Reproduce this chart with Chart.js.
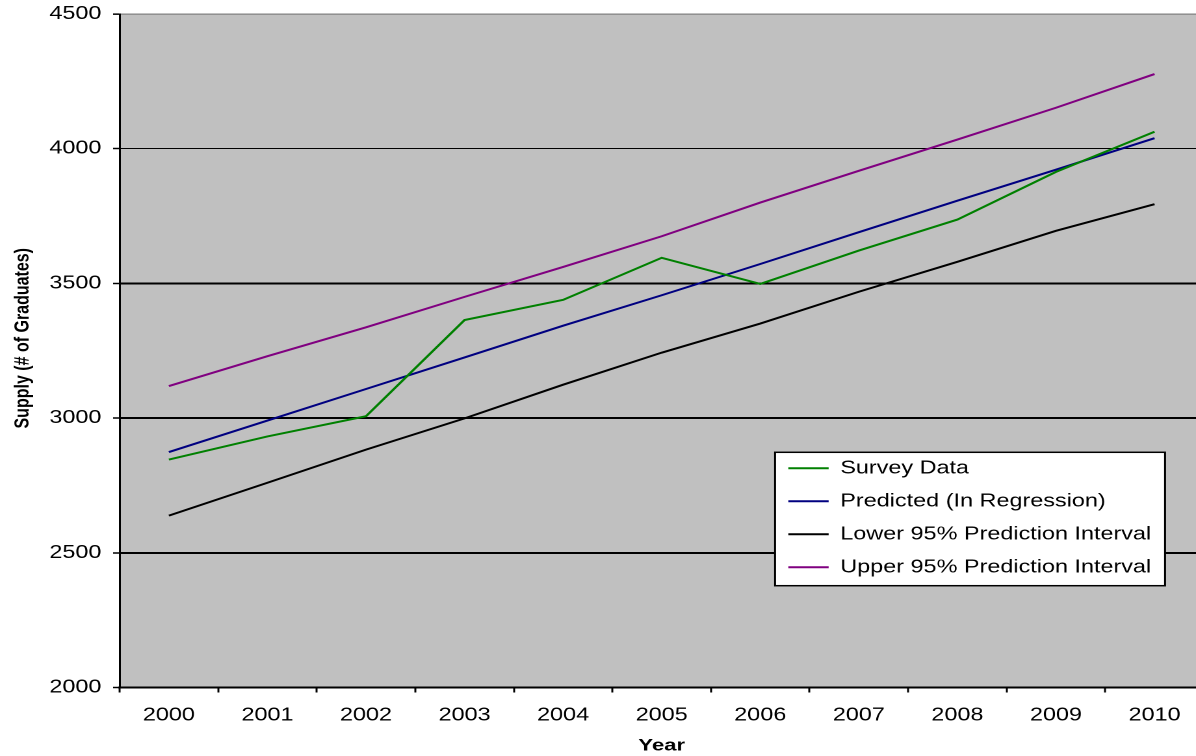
<!DOCTYPE html>
<html>
<head>
<meta charset="utf-8">
<script src="https://cdn.jsdelivr.net/npm/chart.js@4/dist/chart.umd.min.js"></script>
<style>
  html, body { margin: 0; padding: 0; background: #ffffff; overflow: hidden; width: 1196px; height: 756px; }
  /* the chart is laid out narrow and widened horizontally, giving the broad lettering */
  #wrap { position: absolute; left: 0; top: 0; width: 926px; height: 756px; transform: scaleX(1.3); transform-origin: 0 0; }
  canvas { display: block; }
</style>
</head>
<body>
<div id="wrap"><canvas id="chart" width="926" height="756"></canvas></div>
<script>
// Graduate supply by year: survey counts, regression fit and 95% prediction band
const years = ['2000', '2001', '2002', '2003', '2004', '2005', '2006', '2007', '2008', '2009', '2010'];
const surveyData = [2846, 2932, 3007, 3364, 3439, 3595, 3498, 3622, 3737, 3914, 4063];
const predicted  = [2874, 2991, 3108, 3225, 3343, 3456, 3572, 3690, 3807, 3922, 4039];
const lower95    = [2638, 2760, 2883, 2999, 3124, 3243, 3351, 3469, 3580, 3695, 3794];
const upper95    = [3119, 3230, 3337, 3450, 3561, 3675, 3800, 3918, 4034, 4152, 4277];

const seriesNames = ['Survey Data', 'Predicted (In Regression)', 'Lower 95% Prediction Interval', 'Upper 95% Prediction Interval'];
const seriesColors = ['#008000', '#000080', '#000000', '#800080'];
const yTicks = [2000, 2500, 3000, 3500, 4000, 4500];

Chart.defaults.font.family = "'Liberation Sans', Arial, sans-serif";
Chart.defaults.color = '#000000';

// grey plot area
const plotFill = {
  id: 'plotFill',
  beforeDraw(chart) {
    const { ctx, chartArea: a } = chart;
    ctx.save();
    ctx.fillStyle = '#C0C0C0';
    ctx.fillRect(a.left, a.top, a.right - a.left, a.bottom - a.top);
    ctx.restore();
  }
};

// the vertical axis title sits a little above the middle of the plot
const yTitleLift = {
  id: 'yTitleLift',
  afterLayout(chart) {
    const s = chart.scales.y;
    if (s && !s._lifted) {
      s._lifted = true;
      const baseDrawTitle = s.drawTitle;
      s.drawTitle = function () {
        this.ctx.save();
        this.ctx.translate(0, -12.5);
        baseDrawTitle.call(this);
        this.ctx.restore();
      };
    }
  }
};

// legend placed inside the plot, on a white framed panel
const FRAME = { x: 596.2, y: 452.3, w: 300, h: 133.4 };
const legendPanel = {
  id: 'legendPanel',
  beforeLayout(chart) {
    const lg = chart.legend;
    if (lg && !lg._panel) {
      lg._panel = true;
      lg._layers = () => [{
        z: 1,
        draw: () => {
          const ctx = chart.ctx;
          ctx.save();
          ctx.fillStyle = '#ffffff';
          ctx.fillRect(FRAME.x, FRAME.y, FRAME.w, FRAME.h);
          ctx.strokeStyle = '#000000';
          ctx.lineWidth = 1.5;
          ctx.strokeRect(FRAME.x, FRAME.y, FRAME.w, FRAME.h);
          ctx.restore();
          lg.draw();
        }
      }];
    }
  },
  afterLayout(chart) {
    const lg = chart.legend;
    if (!lg) return;
    lg.left = FRAME.x - 4.8;
    lg.top = FRAME.y - 8;
    lg.width = 330;
    lg.height = 200;
    lg.right = lg.left + lg.width;
    lg.bottom = lg.top + lg.height;
  }
};

const datasets = [surveyData, predicted, lower95, upper95].map((values, i) => ({
  label: seriesNames[i],
  data: values,
  borderColor: seriesColors[i],
  backgroundColor: seriesColors[i],
  borderWidth: 2,
  pointRadius: 0,
  tension: 0,
  fill: false
}));

new Chart(document.getElementById('chart'), {
  type: 'line',
  data: { labels: years, datasets },
  plugins: [plotFill, legendPanel, yTitleLift],
  options: {
    responsive: false,
    animation: false,
    devicePixelRatio: 2,
    layout: { padding: { top: 14, left: 0, right: 0, bottom: 0 } },
    plugins: {
      tooltip: { enabled: false },
      legend: {
        position: 'chartArea',
        align: 'start',
        labels: {
          usePointStyle: true,
          pointStyle: 'line',
          pointStyleWidth: 31,
          padding: 15,
          color: '#000000',
          font: { size: 18 }
        }
      }
    },
    scales: {
      x: {
        type: 'category',
        offset: true,
        afterFit(scale) { scale.height = 68.5; },
        grid: {
          display: true,
          drawOnChartArea: false,
          drawTicks: true,
          offset: true,
          tickLength: 5,
          tickColor: '#000000',
          tickWidth: 1.5
        },
        border: { display: true, color: '#000000', width: 2 },
        ticks: {
          autoSkip: false,
          maxRotation: 0,
          padding: 12,
          color: '#000000',
          font: { size: 18 }
        },
        title: {
          display: true,
          text: 'Year',
          color: '#000000',
          font: { size: 17, weight: 'bold' },
          padding: { top: 0, bottom: 0 }
        }
      },
      y: {
        min: yTicks[0],
        max: yTicks[yTicks.length - 1],
        afterFit(scale) {
          scale.width = 92;
          scale.paddingTop = 0;
          scale.paddingBottom = 0;
        },
        afterBuildTicks(scale) { scale.ticks = yTicks.map(v => ({ value: v })); },
        grid: {
          drawTicks: true,
          tickLength: 5,
          tickColor: '#000000',
          tickWidth: 1.5,
          color: (c) => (c.tick && c.tick.value === 4500 ? '#808080' : '#000000'),
          lineWidth: (c) => {
            if (!c.tick) return 2;
            if (c.tick.value === 4500) return 1.3;
            if (c.tick.value === 4000) return 1;
            return 2;
          }
        },
        border: { display: true, color: '#000000', width: 1.5 },
        ticks: {
          padding: 9,
          color: '#000000',
          font: { size: 18 },
          callback: (v) => String(v)
        },
        title: {
          display: true,
          text: 'Supply (# of Graduates)',
          color: '#000000',
          font: { size: 16, weight: 'bold' },
          padding: { top: 8, bottom: 0 }
        }
      }
    }
  }
});
</script>
</body>
</html>
